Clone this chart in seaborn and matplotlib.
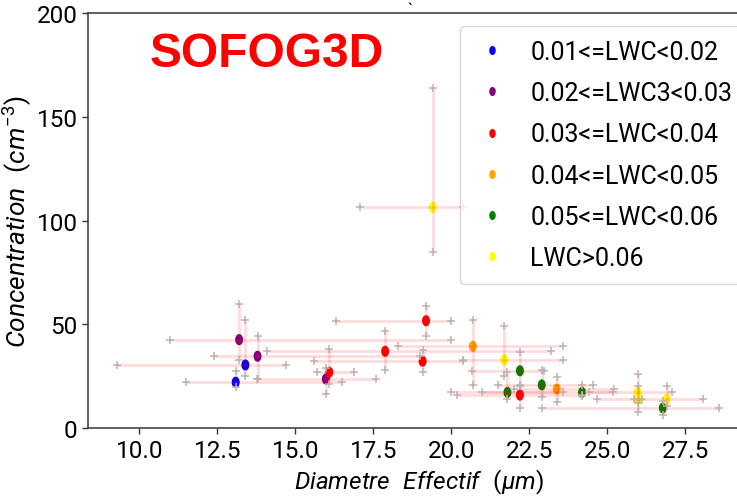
import numpy as np
import pandas as pd
import matplotlib
matplotlib.use("Agg")
import matplotlib.pyplot as plt
from matplotlib.path import Path
from matplotlib.lines import Line2D
from matplotlib import font_manager as fm
import seaborn as sns

# ---------------- data ----------------
categories = ["0.01<=LWC<0.02", "0.02<=LWC3<0.03", "0.03<=LWC<0.04",
              "0.04<=LWC<0.05", "0.05<=LWC<0.06", "LWC>0.06"]
colors = ["blue", "purple", "red", "orange", "green", "yellow"]

point_cat = [0, 0, 1, 1, 1, 2, 2, 2, 2, 2, 3, 3, 4, 4, 4, 4, 4, 5, 5, 5, 5, 5]
diam     = [13.09, 13.40, 13.20, 13.79, 15.98, 16.09, 17.88, 19.19, 19.08, 22.20,
            20.69, 23.38, 21.80, 22.20, 22.90, 24.19, 26.78, 19.40, 21.70, 25.97, 25.97, 26.90]
conc     = [22.2, 30.5, 42.7, 34.7, 23.7, 27.0, 37.1, 51.8, 32.3, 16.0,
            39.5, 18.9, 17.3, 27.7, 20.9, 17.3, 9.8, 106.4, 33.0, 17.3, 14.1, 14.1]
diam_lo  = [11.50, 9.29, 10.98, 12.39, 13.78, 15.69, 14.08, 16.29, 15.60, 20.19,
            18.28, 22.00, 19.98, 20.65, 21.50, 21.00, 22.90, 17.07, 20.38, 24.40, 25.85, 24.68]
diam_hi  = [16.49, 14.70, 19.98, 19.00, 17.59, 16.89, 23.19, 19.98, 20.38, 24.20,
            23.59, 25.20, 23.59, 22.97, 24.55, 25.19, 28.59, 20.38, 23.59, 27.06, 26.10, 28.08]
conc_lo  = [19.7, 25.3, 33.0, 23.7, 16.5, 21.3, 28.1, 44.3, 27.3, 9.6,
            20.9, 12.8, 14.1, 20.2, 15.0, 15.4, 6.4, 85.0, 25.0, 8.0, 12.0, 10.5]
conc_hi  = [27.7, 52.3, 59.9, 44.6, 29.0, 38.2, 47.0, 58.8, 37.9, 21.0,
            52.3, 24.6, 27.3, 36.6, 28.2, 20.9, 13.0, 163.7, 49.4, 26.1, 20.2, 20.2]

x_ticks = [10.0, 12.5, 15.0, 17.5, 20.0, 22.5, 25.0, 27.5]
y_ticks = [0, 50, 100, 150, 200]

# ---------------- style ----------------
sns.set_style("ticks")
names = {f.name for f in fm.fontManager.ttflist}
if "Liberation Sans Narrow" in names:
    FONT = "Liberation Sans Narrow"
elif "Roboto" in names:
    FONT = "Roboto"
else:
    FONT = "DejaVu Sans"
BOLD = "Liberation Sans" if "Liberation Sans" in names else "DejaVu Sans"
plt.rcParams["font.family"] = [FONT, "DejaVu Sans"]
plt.rcParams["mathtext.fontset"] = "custom"
plt.rcParams["mathtext.it"] = FONT + ":italic"
plt.rcParams["mathtext.rm"] = FONT
plt.rcParams["mathtext.default"] = "it"
for key in ["text.color", "axes.labelcolor", "xtick.labelcolor", "ytick.labelcolor"]:
    plt.rcParams[key] = "black"

df = pd.DataFrame({
    "x": diam, "y": conc,
    "xlo": diam_lo, "xhi": diam_hi, "ylo": conc_lo, "yhi": conc_hi,
    "cat": [categories[i] for i in point_cat],
})
palette = dict(zip(categories, colors))

# vertically elongated ellipse marker (as in the reference)
t = np.linspace(0, 2 * np.pi, 60)
ellipse = Path(np.column_stack([0.72 * np.cos(t), np.sin(t)]), closed=True)

fig = plt.figure(figsize=(7.37, 5.02), dpi=100)
ax = fig.add_axes([88 / 737, (502 - 429.3) / 502, (750 - 88) / 737, (429.3 - 14) / 502])

# colored dots
sns.scatterplot(data=df, x="x", y="y", hue="cat", palette=palette, hue_order=categories,
                marker=ellipse, s=64, linewidth=0, legend=False, ax=ax, zorder=2)

# pink error lines
x = df["x"].to_numpy(); y = df["y"].to_numpy()
ax.errorbar(x, y,
            xerr=[x - df["xlo"].to_numpy(), df["xhi"].to_numpy() - x],
            yerr=[y - df["ylo"].to_numpy(), df["yhi"].to_numpy() - y],
            fmt="none", ecolor=(1.0, 0.0, 0.0, 0.14), elinewidth=2, capsize=0, zorder=3)

# grey '+' at the ends of the bars
ends = pd.DataFrame({
    "x": np.concatenate([df["xlo"], df["xhi"], x, x]),
    "y": np.concatenate([y, y, df["ylo"], df["yhi"]]),
})
sns.scatterplot(data=ends, x="x", y="y", marker="+", s=30, color="#bfb1b1",
                linewidth=1.1, legend=False, ax=ax, zorder=4)

ax.set_xlim(8.356, 29.574)
ax.set_ylim(0, 200)
ax.set_xticks(x_ticks)
ax.set_xticklabels([f"{v:.1f}" for v in x_ticks])
ax.set_yticks(y_ticks)
ax.set_yticklabels([str(v) for v in y_ticks])
ax.tick_params(labelsize=17.5, length=4, width=1, color="#333333", labelcolor="black")
for sp in ax.spines.values():
    sp.set_color("#444444")
    sp.set_linewidth(1.2)

ax.set_xlabel(r"$Diametre\ \ Effectif\ \ (\mu m)$", fontsize=17.5, labelpad=4, color="black")
ax.set_ylabel(r"$Concentration\ \ (cm^{-3})$", fontsize=19, labelpad=2, color="black")

handles = [Line2D([], [], linestyle="none", marker=ellipse, markersize=6.5,
                  markerfacecolor=c, markeredgewidth=0) for c in colors]
ax.legend(handles, categories, loc="upper left",
          bbox_to_anchor=(460 / 737, (502 - 27) / 502), bbox_transform=fig.transFigure,
          borderaxespad=0, fontsize=18, handlelength=1.42, handletextpad=0.85,
          labelspacing=0.69, borderpad=0.55, frameon=True, labelcolor="black")

fig.text(150 / 737, (502 - 66.7) / 502, "SOFOG3D", color="#ff0000", fontsize=34.5,
         fontweight="bold", family=BOLD, va="baseline", ha="left")
fig.text(410 / 737, 0.995, "`", fontsize=12, ha="center", va="top", color="black")

fig.savefig("out.png", dpi=100)
